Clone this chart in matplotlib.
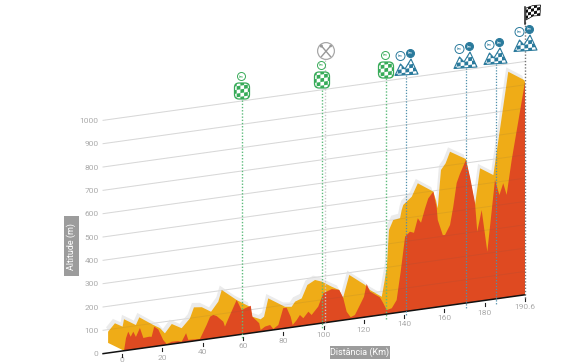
import matplotlib
matplotlib.use('Agg')
import matplotlib.pyplot as plt
from matplotlib.patches import Circle, FancyBboxPatch, Polygon, Rectangle
from matplotlib.transforms import Affine2D

plt.rcParams['font.family'] = ['Liberation Sans Narrow', 'Roboto', 'DejaVu Sans']

# Front profile (red): position along the axis, altitude in metres
front_km = [1, 2, 3.1, 4.3, 5.6, 6.9, 8.9, 10.6, 13.5, 14.7, 16, 18, 20.5, 22.2, 24.7, 27.9, 29.6,
            31.8, 32.9, 38.7, 42, 43.7, 45.3, 47, 50.3, 51.1, 53.6, 56.9, 59.4, 61, 63.9, 64.7,
            68.1, 68.8, 71, 73.5, 75.1, 77.6, 80, 81.7, 83.7, 84.7, 86.7, 88.3, 90, 92.5, 94.1,
            97.4, 99.9, 104.1, 107.8, 109.8, 111.5, 113.5, 115.6, 118.1, 120.1, 121.4, 123.1,
            128, 129.7, 131.4, 133.9, 136.3, 138.3, 140.5, 142.9, 144.9, 146.8, 148.4, 150.4,
            152, 154.5, 156.2, 156.7, 159.2, 160.3, 162.8, 164.4, 166.1, 167.7, 170.7, 172.7,
            175.2, 176.3, 178.5, 181.3, 185.1, 187.3, 189.2, 190.9, 193.4, 200]
front_alt = [0, 53, 79, 56, 76, 52, 88, 43, 45, 43, 85, 71, 22, 3, 10, 9, 4,
             38, 8, 5, 61, 94, 100, 93, 65, 43, 90, 150, 104, 109, 117, 69,
             37, 7, 19, 23, 4, 18, 87, 87, 46, 9, 28, 48, 32, 57, 41,
             73, 127, 140, 132, 95, 34, 8, 15, 55, 88, 141, 106,
             76, 48, 17, 22, 54, 173, 321, 339, 332, 392, 371, 430,
             471, 497, 425, 373, 305, 304, 344, 420, 520, 557, 613, 539,
             423, 299, 389, 207, 510, 443, 491, 439, 586, 912]

# Back ridge (amber)
back_km = [-6.9, -3.5, 0.3, 1, 6.9, 8.6, 15.5, 18.9, 21.3, 24.7, 29.6, 33.7, 35.7, 39.6, 44.2,
           47.8, 49.5, 56.9, 63.5, 64.7, 68.8, 70.5, 72.6, 80.9, 84.2, 85.9, 89.2, 92, 95.8,
           99.1, 104.1, 107.7, 109.7, 112.8, 120.6, 123.1, 128.9, 129.7, 131.4, 132.5, 134.6,
           138, 138.8, 139.6, 142.1, 143.8, 146.8, 154.5, 155.8, 156.7, 158.3, 160.6, 162.8,
           170.7, 175.2, 177.7, 184.3, 191.7, 199.6, 200, 200, 1, -6.9]
back_alt = [91, 123, 104, 135, 103, 134, 93, 75, 50, 86, 62, 99, 144, 140, 115,
            154, 202, 150, 113, 69, 53, 62, 138, 92, 88, 108, 118, 172, 189,
            178, 150, 132, 95, 190, 138, 113, 77, 113, 196, 359, 399,
            403, 437, 458, 476, 488, 542, 497, 459, 423, 585, 611, 658,
            617, 415, 569, 532, 966, 921, 912, 0, 0, 43]

grid_alts = [100, 200, 300, 400, 500, 600, 700, 800, 900, 1000]
y_labels = ['0', '100', '200', '300', '400', '500', '600', '700', '800', '900', '1000']
tick_pos = [0, 20, 40, 60, 80, 100, 120, 140, 160, 180, 200]
tick_labels = ['0', '20', '40', '60', '80', '100', '120', '140', '160', '180', '190.6']

sprint_km = [59.6, 99.3, 131]
climb_km = [141, 170.7, 185.6, 200]
feed_km = 100.8

GREEN = '#37AB58'
BLUE = '#2A7A9C'
GRAY_BOX = '#9C9C9C'
TXT = '#ABABAB'

fig = plt.figure(figsize=(5.73, 3.64), dpi=100)
ax = fig.add_axes([0, 0, 1, 1])
ax.set_xlim(0, 573)
ax.set_ylim(364, 0)
ax.axis('off')

# Oblique view: km runs along the sloped axis, altitude goes straight up
chart = Affine2D.from_values(2.015, -0.2811, 0, -0.2333, 122, 351) + ax.transData


def checker(x0, x1, y0, y1, size, color, clip, skew=0.0):
    rows = int((y1 - y0) / size) + 2
    cols = int((x1 - x0) / size) + 1
    for r in range(rows):
        for c in range(cols):
            if (r + c) % 2:
                continue
            x = x0 + c * size
            y = y0 + r * size - skew * c * size
            sq = Polygon([(x, y), (x + size, y - skew * size), (x + size, y + size - skew * size), (x, y + size)],
                         closed=True, fc=color, ec='none', zorder=6)
            ax.add_patch(sq)
            sq.set_clip_path(clip)


def tiny_circle(x, y, r, color, filled=False):
    ax.add_patch(Circle((x, y), r, fc=color if filled else 'white', ec=color, lw=0.7, zorder=7))
    ax.text(x, y, 'km', color='white' if filled else color, fontsize=2.5, ha='center', va='center', zorder=8)


def sprint_badge(x, y):
    box = FancyBboxPatch((x - 7, y - 7.5), 14, 15, boxstyle='round,pad=0.5,rounding_size=4.5', fc='white',
                         ec=GREEN, lw=0.9, zorder=5)
    ax.add_patch(box)
    checker(x - 9, x + 9, y - 8, y + 10, 3.7, GREEN, box, skew=0.14)
    tiny_circle(x - 0.5, y - 14.5, 4, GREEN)


def climb_badge(x, y):
    pts = [(x - 11, y + 16.5), (x - 5.5, y + 5), (x - 1, y + 10), (x + 5, y), (x + 12, y + 15)]
    hill = Polygon(pts, closed=True, fc='white', ec=BLUE, lw=0.8, joinstyle='round', zorder=5)
    ax.add_patch(hill)
    checker(x - 12, x + 13, y, y + 18, 3.8, BLUE, hill, skew=0.14)
    tiny_circle(x - 5.5, y - 3, 4.5, BLUE)
    tiny_circle(x + 4.5, y - 5.5, 4, BLUE, filled=True)


# Background grid
for alt in grid_alts:
    ax.plot([-9.4, 200], [alt, alt], color='#E6E6E6', lw=0.7, transform=chart, zorder=1)

# Profile layers
ax.fill([k - 1 for k in back_km[:-3]] + [200, 1], [a + 20 for a in back_alt[:-3]] + [0, 0],
        color='#EBEBEB', lw=0, transform=chart, zorder=2)
ax.fill(back_km, back_alt, color='#EFAC17', lw=0, transform=chart, zorder=2.5)
ax.fill(front_km + [200], front_alt + [0], color='#DF4A21', lw=0, transform=chart, zorder=3)

# Grid shows faintly through the profile
for alt in grid_alts:
    ax.plot([-9.4, 200], [alt, alt], color='#555555', alpha=0.1, lw=0.7, transform=chart, zorder=3.5)

# Axis and labels
ax.plot([-9.4, 200], [0, 0], color='#111111', lw=1.1, transform=chart, zorder=4)
for pos, lab in zip(tick_pos, tick_labels):
    ax.plot([pos, pos], [-13, -26], color='#222222', lw=0.8, transform=chart, zorder=4)
    # the 0 label sits at the bottom edge, keep it inside the picture
    label_alt = -39 if pos == 0 else -53
    ax.text(pos, label_alt, lab, color=TXT, fontsize=6, ha='center', va='center', transform=chart)
for i, lab in enumerate(y_labels):
    ax.text(-11.6, i * 100, lab, color=TXT, fontsize=6, ha='right', va='center', transform=chart)

# Dotted lines down from the markers
base = lambda km: 351 - 0.2811 * km
for km, top in zip(sprint_km, [100, 90, 78]):
    x = 122 + 2.015 * km
    ax.plot([x, x], [top, base(km) + 5], color='#5DBB7C', lw=1, ls=(0, (1, 1.3)), zorder=4.5)
for km, top in zip(climb_km[:3], [75, 68, 64]):
    x = 122 + 2.015 * km
    ax.plot([x, x], [top, base(km) + 5], color='#4F8FAB', lw=0.9, ls=(0, (1, 1.3)), zorder=4.5)
ax.plot([525, 525], [22, 300], color='#777777', lw=1, ls=(0, (1, 1.3)), zorder=4.5)
feed_x = 122 + 2.015 * feed_km
ax.plot([feed_x, feed_x], [60, base(feed_km) + 3], color='#C8C8C8', lw=1, ls=(0, (1, 1.3)), zorder=4.5)

# Markers
for x, y in zip([242, 322, 386], [91, 80, 70]):
    sprint_badge(x, y)
for x, y in zip([406, 465, 495, 525], [59, 52, 48, 35]):
    climb_badge(x, y)

# Feed zone icon
ax.add_patch(Circle((326, 51), 8.4, fc='white', ec='#A8A8A8', lw=0.9, zorder=5))
ax.plot([321.5, 330.5], [46, 56.5], color='#989898', lw=1, zorder=6)
ax.plot([330.5, 321.5], [46, 56.5], color='#989898', lw=1, zorder=6)
ax.add_patch(Circle((321.3, 46), 1.6, fc='#989898', ec='none', zorder=6))
ax.add_patch(Circle((330.7, 46), 1.3, fc='#989898', ec='none', zorder=6))

# Finish flag
flag = Polygon([(526, 8), (533, 5.5), (540.5, 5), (540, 15.5), (533, 16), (526, 20)], closed=True, fc='white',
               ec='#111111', lw=0.5, zorder=5)
ax.add_patch(flag)
checker(525, 542, 4, 22, 3, '#111111', flag, skew=0.2)
ax.plot([525.3, 525.3], [7, 24], color='#222222', lw=1.1, zorder=6)

# Axis title boxes
ax.add_patch(Rectangle((64, 216), 14.5, 60, fc=GRAY_BOX, ec='none', zorder=5))
ax.text(71.3, 246, 'Altitude (m)', color='white', fontsize=6.5, rotation=90, ha='center', va='center', zorder=6)
ax.add_patch(Rectangle((330, 346), 60, 12.5, fc=GRAY_BOX, ec='none', zorder=5))
ax.text(360, 352.3, 'Distância (Km)', color='white', fontsize=6.5, ha='center', va='center', zorder=6)

fig.savefig('out.png', dpi=100)
